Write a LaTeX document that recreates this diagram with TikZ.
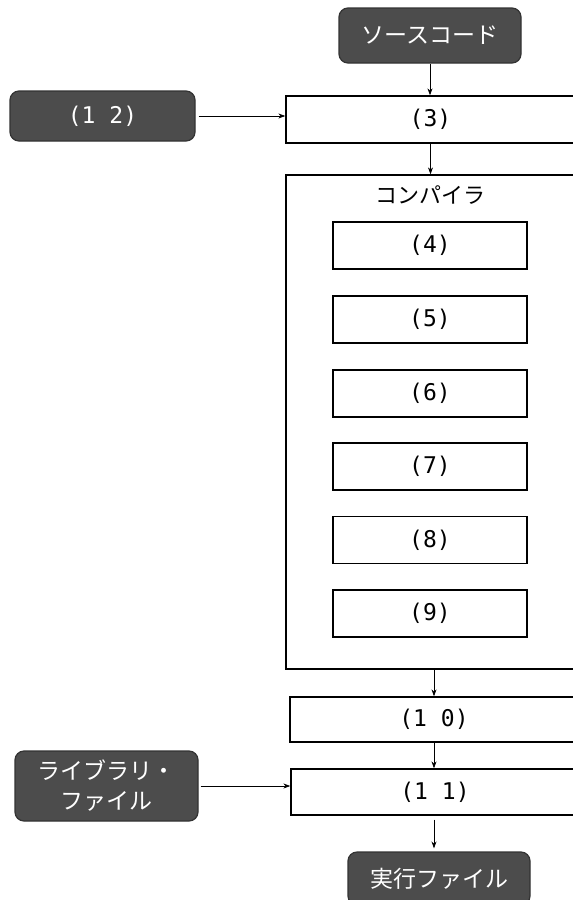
\documentclass[tikz,border=0pt]{standalone}
\usepackage{fontspec}
\newfontfamily\jp{Noto Sans CJK JP}
\newfontfamily\mono{DejaVu Sans Mono}
\usetikzlibrary{arrows.meta}
\begin{document}
\begin{tikzpicture}[x=1pt,y=-1pt,
  dark/.style={draw=black!80,line width=1.2pt,fill=black!70,rounded corners=9pt,text=white,inner sep=0pt,font=\jp\fontsize{23}{30}\selectfont,align=center},
  wbox/.style={draw=black,line width=1.3pt,fill=white,inner sep=0pt,font=\mono\fontsize{23}{26}\selectfont},
  arr/.style={-{Stealth[length=7pt,width=5pt]},line width=0.8pt}]
\useasboundingbox (0,0) rectangle (573,900);
\clip (0,0) rectangle (573,900);
% dark terminal boxes
\node[dark,minimum width=182,minimum height=55] (src) at (430,35.5) {ソースコード};
\node[dark,minimum width=185,minimum height=50,font=\mono\fontsize{23}{26}\selectfont] (b12) at (102.5,116) {(1 2)};
\node[dark,minimum width=183,minimum height=70] (lib) at (106.5,786) {ライブラリ・\\ファイル};
\node[dark,minimum width=182,minimum height=53] (exe) at (439,878.5) {実行ファイル};
% main boxes
\node[wbox,minimum width=289,minimum height=47] (b3) at (430.5,119.5) {(3)};
\node[wbox,minimum width=289,minimum height=494] (comp) at (430.5,422) {};
\node[font=\jp\fontsize{22}{26}\selectfont] (complbl) at (430,195) {コンパイラ};
\foreach \n/\y in {4/245.5,5/319.5,6/393.5,7/466.5,8/540,9/613.5}{
  \node[wbox,minimum width=194,minimum height=47] (b\n) at (430,\y) {(\n)};
}
\node[wbox,minimum width=288,minimum height=45] (b10) at (434,719.5) {(1 0)};
\node[wbox,minimum width=288,minimum height=46] (b11) at (435,792) {(1 1)};
% connectors
\draw[arr] (src.south) -- (src.south |- b3.north);
\draw[arr] (b3.south) -- (b3.south |- comp.north);
\draw[arr] (b10.north |- comp.south) -- (b10.north);
\draw[arr] (b10.south) -- (b10.south |- b11.north);
\draw[arr,shorten <=4pt,shorten >=3pt] (b10.south |- b11.south) -- (b10.south |- exe.north);
\draw[arr,shorten <=3pt] (b12.east) -- (b12.east -| b3.west);
\draw[arr,shorten <=2pt] (lib.east) -- (lib.east -| b11.west);
\end{tikzpicture}
\end{document}
